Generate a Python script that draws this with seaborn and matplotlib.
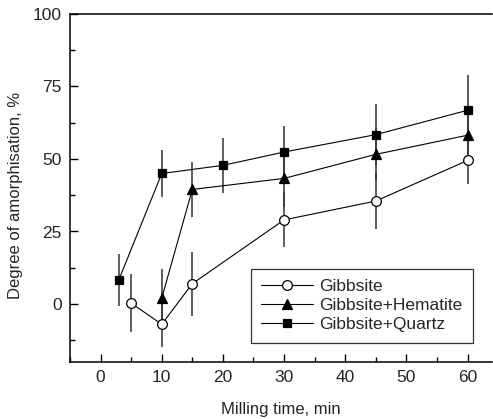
import numpy as np
import pandas as pd
import matplotlib
matplotlib.use("Agg")
import matplotlib.pyplot as plt
import seaborn as sns
from matplotlib.ticker import MultipleLocator

# --- data ---
gib_t = [5, 10, 15, 30, 45, 60]
gib_y = [0.3, -7.0, 7.0, 29.0, 35.5, 49.5]
gib_err = [10, 8, 11, 9.5, 9.5, 8]

hem_t = [10, 15, 30, 45, 60]
hem_y = [2.0, 39.5, 43.3, 51.6, 58.2]
hem_err = [10, 9.5, 10, 9, 8]

qtz_t = [3, 10, 20, 30, 45, 60]
qtz_y = [8.4, 45.0, 47.8, 52.4, 58.4, 66.8]
qtz_err = [9, 8, 9.5, 9, 10.5, 12]

series = [
    ("Gibbsite", gib_t, gib_y, gib_err, "o", "white"),
    ("Gibbsite+Hematite", hem_t, hem_y, hem_err, "^", "black"),
    ("Gibbsite+Quartz", qtz_t, qtz_y, qtz_err, "s", "black"),
]

sns.set_style("ticks")
plt.rcParams["font.family"] = ["Liberation Sans", "DejaVu Sans"]

fig = plt.figure(figsize=(4.93, 4.19), dpi=100)
ax = fig.add_axes([70 / 493, 1 - 362 / 419, 422 / 493, 348 / 419])

for name, t, y, err, mk, fc in series:
    ax.errorbar(t, y, yerr=err, fmt="none", ecolor="#333333", elinewidth=1.1, capsize=0, zorder=1)
    df = pd.DataFrame({"t": t, "y": y})
    sns.lineplot(data=df, x="t", y="y", ax=ax, color="black", linewidth=0.8,
                 marker=mk, markersize=7 if mk != "s" else 6.3, markerfacecolor=fc,
                 markeredgecolor="black", markeredgewidth=0.9, label=name, zorder=3)

ax.set_xlim(-5, 64)
ax.set_ylim(-20, 100)
ax.xaxis.set_major_locator(MultipleLocator(10))
ax.xaxis.set_minor_locator(MultipleLocator(5))
ax.yaxis.set_major_locator(MultipleLocator(25))
ax.yaxis.set_minor_locator(MultipleLocator(12.5))
ax.tick_params(which="both", direction="in", top=False, right=False, labelsize=12.5, width=1, color="black")
ax.tick_params(which="major", length=6, pad=6)
ax.tick_params(which="minor", length=3.5)
for s in ["left", "bottom", "top"]:
    ax.spines[s].set_visible(True)
    ax.spines[s].set_linewidth(1.1)
    ax.spines[s].set_color("black")
ax.spines["right"].set_visible(False)

ax.set_xlabel("Milling time, min", fontsize=12, labelpad=12)
ax.set_ylabel("Degree of amorphisation, %", fontsize=12)
ax.yaxis.set_label_coords(-0.112, 0.48)

leg = ax.legend(loc="lower right", bbox_to_anchor=(0.955, 0.055), fontsize=12.5, frameon=True,
                fancybox=False, edgecolor="black", handlelength=3.0, borderpad=0.6,
                labelspacing=0.22, handletextpad=0.35, borderaxespad=0)
leg.get_frame().set_linewidth(0.9)

fig.savefig("out.png", dpi=100)
